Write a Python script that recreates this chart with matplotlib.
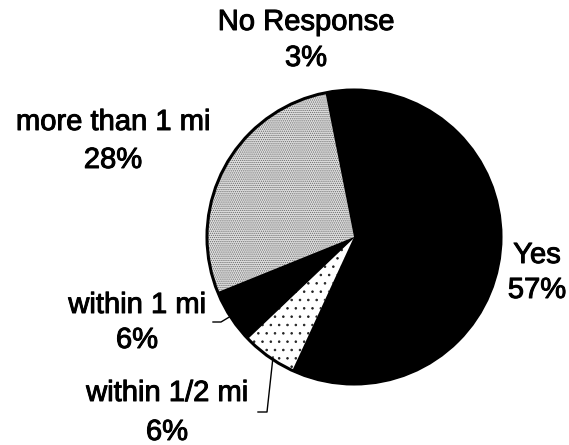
import matplotlib
matplotlib.use("Agg")
import matplotlib.pyplot as plt
import matplotlib.patheffects as pe
from matplotlib.patches import Circle

plt.rcParams['font.family'] = ['Liberation Sans', 'DejaVu Sans']
plt.rcParams['hatch.linewidth'] = 0.6

# Data (clockwise from the top)
categories = ["No Response", "Yes", "within 1/2 mi", "within 1 mi", "more than 1 mi"]
values = [3, 57, 6, 6, 28]
pct_labels = ["3%", "57%", "6%", "6%", "28%"]

# Styles
face = ["black", "black", "white", "black", "#dedede"]
hatches = [None, None, "..", None, "........"]
hatch_col = [None, None, "#222222", None, "#6a6a6a"]

W, H = 569, 445
fig = plt.figure(figsize=(W / 100, H / 100), dpi=100)
ax = fig.add_axes([0, 0, 1, 1])

cx, cy, r = 354, H - 237, 147
wedges, _ = ax.pie(values, startangle=101.2, counterclock=False,
                   colors=face, radius=r, center=(cx, cy),
                   wedgeprops=dict(linewidth=1.0, edgecolor="black"))
for w, h, hc in zip(wedges, hatches, hatch_col):
    if h:
        w.set_hatch(h)
        w.set_edgecolor(hc)
        w.set_linewidth(0)

ax.add_patch(Circle((cx, cy), r, fill=False, lw=2.2, ec="black", zorder=5))

ax.set_xlim(0, W)
ax.set_ylim(0, H)
ax.set_aspect("equal")
ax.axis("off")

# label positions (pixel coords from top-left): x, y of name, y of percent
pos = {
    "No Response": (306, 22, 58),
    "Yes": (537, 255, 290),
    "within 1/2 mi": (167, 393, 432),
    "within 1 mi": (137, 305, 340),
    "more than 1 mi": (113, 122, 160),
}
stroke = [pe.withStroke(linewidth=0.7, foreground="black")]
for cat, pct in zip(categories, pct_labels):
    x, y1, y2 = pos[cat]
    ax.text(x, H - y1, cat, ha="center", va="center", fontsize=21,
            path_effects=stroke)
    ax.text(x, H - y2, pct, ha="center", va="center", fontsize=21,
            path_effects=stroke)

# leader lines
ax.plot([213, 221, 231], [H - 322, H - 322, H - 316], color="black", lw=1)
ax.plot([258, 267, 273], [H - 412, H - 412, H - 357], color="black", lw=1)

fig.savefig("out.png", dpi=100)
